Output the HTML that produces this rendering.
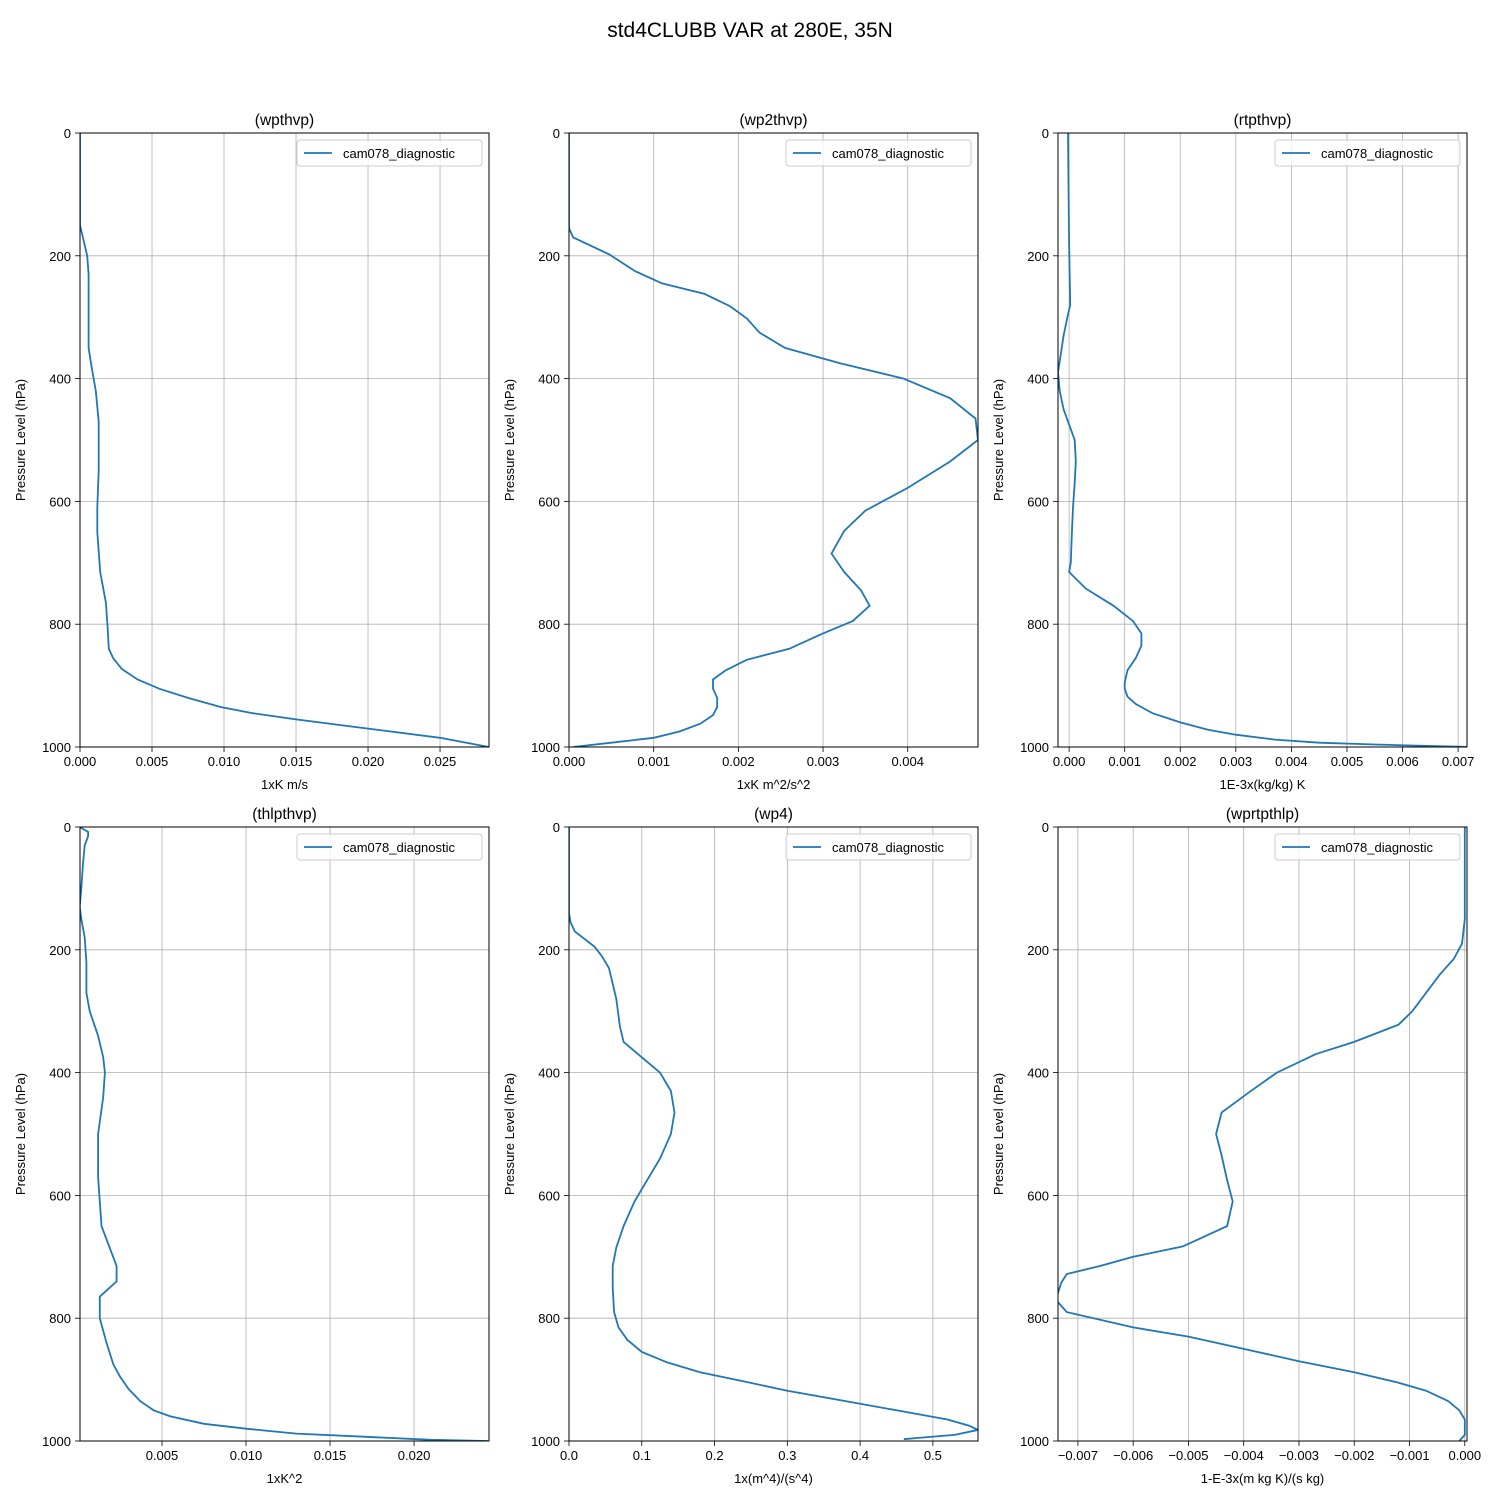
<!DOCTYPE html>
<html><head><meta charset="utf-8"><style>
body{margin:0;background:#fff;}
svg text{font-family:"Liberation Sans","DejaVu Sans",sans-serif;fill:#000;}
</style></head><body>
<svg id="fig" width="1500" height="1500" xmlns="http://www.w3.org/2000/svg">
<rect width="1500" height="1500" fill="#fff"/>
<text x="750" y="37" font-size="21" text-anchor="middle">std4CLUBB VAR at 280E, 35N</text>
</svg>
<script>
// pressure levels per panel
const p1=[0,150,170,200,230,300,350,380,420,470,500,550,610,650,715,765,800,840,855,873,890,905,920,935,945,955,970,985,1000];
const v1=[0,0,0.0002,0.0005,0.0006,0.0006,0.0006,0.0008,0.0011,0.0013,0.0013,0.0013,0.0012,0.0012,0.0014,0.0018,0.0019,0.002,0.0023,0.0029,0.004,0.0055,0.0075,0.0098,0.012,0.015,0.02,0.025,0.0284];
const p2=[0,155,170,198,225,245,262,282,302,325,350,375,400,432,465,500,535,578,615,648,685,715,745,770,795,815,840,858,875,890,905,920,935,948,962,975,985,993,1000];
const v2=[0,0,0.00005,0.00048,0.00078,0.0011,0.0016,0.0019,0.0021,0.00225,0.00255,0.0032,0.00395,0.0045,0.0048,0.00483,0.0045,0.004,0.0035,0.00325,0.0031,0.00325,0.00345,0.00355,0.00335,0.003,0.0026,0.0021,0.00185,0.0017,0.0017,0.00175,0.00175,0.0017,0.00155,0.0013,0.001,0.0005,0.00005];
const p3=[0,180,280,300,330,360,390,420,450,475,500,535,570,610,650,700,715,742,770,795,815,835,855,875,895,905,918,930,945,960,972,980,988,993,996,1000];
const v3=[-0.00002,0,0.00002,-0.00003,-0.0001,-0.00015,-0.0002,-0.00017,-0.0001,0,0.0001,0.00012,0.0001,0.00007,0.00005,0.00003,0,0.0003,0.0008,0.00115,0.0013,0.0013,0.0012,0.00105,0.001,0.001,0.00105,0.0012,0.0015,0.002,0.0025,0.003,0.0037,0.0045,0.0055,0.0072];
const p4=[0,8,15,30,60,100,130,150,180,220,270,300,340,375,400,440,500,570,650,715,740,765,800,840,875,895,915,935,950,960,972,980,988,993,998,1000];
const v4=[0.0001,0.0006,0.0006,0.0004,0.0003,0.0002,0.0001,0.0002,0.0004,0.0005,0.0005,0.0007,0.0012,0.0015,0.0016,0.0015,0.0012,0.0012,0.0014,0.0023,0.0023,0.0013,0.0013,0.0017,0.0021,0.0025,0.003,0.0037,0.0045,0.0055,0.0075,0.01,0.013,0.017,0.021,0.0244];
const p5=[0,140,155,170,195,210,230,280,325,350,375,400,430,465,500,540,580,610,650,685,715,750,790,815,835,855,872,888,903,918,935,950,965,975,982,990,995,997];
const v5=[0,0,0.002,0.008,0.035,0.045,0.055,0.065,0.07,0.075,0.1,0.125,0.14,0.145,0.14,0.125,0.105,0.09,0.075,0.065,0.06,0.06,0.062,0.068,0.08,0.1,0.135,0.18,0.24,0.3,0.38,0.45,0.52,0.55,0.562,0.53,0.48,0.46];
const p6=[0,150,190,215,240,270,300,322,350,370,400,432,465,500,535,575,610,650,683,700,715,728,742,770,790,815,830,850,870,888,905,918,935,950,965,975,990,1000];
const v6=[0,0,-0.00005,-0.0002,-0.00045,-0.0007,-0.00095,-0.0012,-0.002,-0.0027,-0.0034,-0.0039,-0.0044,-0.0045,-0.0044,-0.0043,-0.0042,-0.0043,-0.0051,-0.006,-0.0066,-0.0072,-0.0073,-0.0074,-0.0072,-0.006,-0.005,-0.004,-0.003,-0.002,-0.0012,-0.0007,-0.0003,-0.0001,0,0,0,-0.0001];
const t1=[0,0.005,0.010,0.015,0.020,0.025];
const t2=[0,0.001,0.002,0.003,0.004];
const t3=[0,0.001,0.002,0.003,0.004,0.005,0.006,0.007];
const t4=[0.005,0.010,0.015,0.020];
const t5=[0,0.1,0.2,0.3,0.4,0.5];
const t6=[-0.007,-0.006,-0.005,-0.004,-0.003,-0.002,-0.001,0];
const yTicks=[0,200,400,600,800,1000];

const panels=[
 {n:'wpthvp',x0:80,y0:133,xmin:0,xmax:0.0284,p:p1,v:v1,t:t1,dec:3,xl:'1xK m/s'},
 {n:'wp2thvp',x0:569,y0:133,xmin:0,xmax:0.00483,p:p2,v:v2,t:t2,dec:3,xl:'1xK m^2/s^2'},
 {n:'rtpthvp',x0:1058,y0:133,xmin:-0.0002,xmax:0.00716,p:p3,v:v3,t:t3,dec:3,xl:'1E-3x(kg/kg) K'},
 {n:'thlpthvp',x0:80,y0:827,xmin:0.00012,xmax:0.02446,p:p4,v:v4,t:t4,dec:3,xl:'1xK^2'},
 {n:'wp4',x0:569,y0:827,xmin:0,xmax:0.562,p:p5,v:v5,t:t5,dec:1,xl:'1x(m^4)/(s^4)'},
 {n:'wprtpthlp',x0:1058,y0:827,xmin:-0.00736,xmax:0.00004,p:p6,v:v6,t:t6,dec:3,xl:'1-E-3x(m kg K)/(s kg)'}
];
const W=409,H=614,NS='http://www.w3.org/2000/svg';
const fig=document.getElementById('fig');
function mk(tag,attrs,parent,txt){const e=document.createElementNS(NS,tag);for(const k in attrs)e.setAttribute(k,attrs[k]);if(txt!==undefined)e.textContent=txt;parent.appendChild(e);return e;}
panels.forEach(P=>{
 const g=mk('g',{},fig);
 
 
 const xs=v=>P.x0+(v-P.xmin)/(P.xmax-P.xmin)*W;
 const ys=p=>P.y0+p/1000*H;
 // grid
 P.t.forEach(t=>{const x=xs(t);
  const l=mk('line',{x1:x,x2:x,y1:P.y0,y2:P.y0+H,stroke:'#b0b0b0','stroke-width':0.8},g);
  
  
  mk('line',{x1:x,x2:x,y1:P.y0+H,y2:P.y0+H+5,stroke:'#000','stroke-width':0.8},g);
  const lab=(t<0?'\u2212':'')+Math.abs(t).toFixed(P.dec);
  const tx=mk('text',{x:x,y:P.y0+H+19,'font-size':13,'text-anchor':'middle'},g,lab);
  
  
 });
 yTicks.forEach(t=>{const y=ys(t);
  const l=mk('line',{x1:P.x0,x2:P.x0+W,y1:y,y2:y,stroke:'#b0b0b0','stroke-width':0.8},g);
  
  
  mk('line',{x1:P.x0-5,x2:P.x0,y1:y,y2:y,stroke:'#000','stroke-width':0.8},g);
  const tx=mk('text',{x:P.x0-9,y:y+5,'font-size':13,'text-anchor':'end'},g,String(t));
  
  
 });
 const pts=P.p.map((p,i)=>xs(P.v[i]).toFixed(1)+','+ys(p).toFixed(1)).join(' ');
 const cp=mk('clipPath',{id:'c'+P.n},g);mk('rect',{x:P.x0,y:P.y0,width:W,height:H},cp);
 const line=mk('polyline',{points:pts,fill:'none',stroke:'#1f77b4','stroke-width':1.8,'clip-path':'url(#c'+P.n+')'},g);
 
 
 mk('rect',{x:P.x0,y:P.y0,width:W,height:H,fill:'none',stroke:'#000','stroke-width':1},g);
 const ti=mk('text',{x:P.x0+W/2,y:P.y0-8,'font-size':15.5,'text-anchor':'middle'},g,'('+P.n+')');
 
 
 const xl=mk('text',{x:P.x0+W/2,y:P.y0+H+42,'font-size':13,'text-anchor':'middle'},g,P.xl);
 
 
 const yx=P.x0-55,yy=P.y0+H/2;
 const yl=mk('text',{x:yx,y:yy,'font-size':13,'text-anchor':'middle',transform:'rotate(-90 '+yx+' '+yy+')'},g,'Pressure Level (hPa)');
 
 
 const lg=mk('g',{},g);
 
 
 mk('rect',{x:P.x0+W-192,y:P.y0+7,width:185,height:26,rx:3,fill:'#fff','fill-opacity':0.8,stroke:'#ccc'},lg);
 mk('line',{x1:P.x0+W-185,x2:P.x0+W-157,y1:P.y0+20,y2:P.y0+20,stroke:'#1f77b4','stroke-width':1.8},lg);
 mk('text',{x:P.x0+W-146,y:P.y0+25,'font-size':13},lg,'cam078_diagnostic');
});
</script>
</body></html>
